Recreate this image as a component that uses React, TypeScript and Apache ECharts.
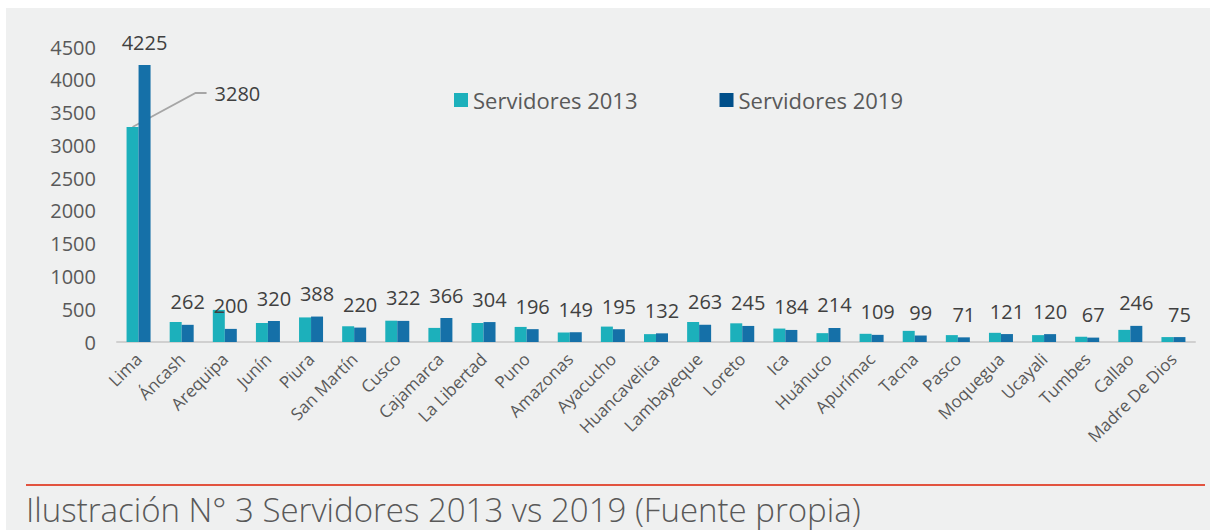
import React, { useEffect, useRef } from "react";
import * as echarts from "echarts";

const categories = [
  "Lima", "Áncash", "Arequipa", "Junín", "Piura", "San Martín", "Cusco", "Cajamarca",
  "La Libertad", "Puno", "Amazonas", "Ayacucho", "Huancavelica", "Lambayeque", "Loreto",
  "Ica", "Huánuco", "Apurímac", "Tacna", "Pasco", "Moquegua", "Ucayali", "Tumbes",
  "Callao", "Madre De Dios",
];
const servidores2013 = [
  3280, 305, 490, 290, 375, 240, 325, 215, 290, 230, 145, 235, 120, 305, 285, 205, 135,
  125, 170, 105, 140, 105, 80, 185, 75,
];
const servidores2019 = [
  4225, 262, 200, 320, 388, 220, 322, 366, 304, 196, 149, 195, 132, 263, 245, 184, 214,
  109, 99, 71, 121, 120, 67, 246, 75,
];
const yTicks = { min: 0, max: 4500, interval: 500 };
const seriesNames = ["Servidores 2013", "Servidores 2019"];
const caption = "Ilustración N° 3 Servidores 2013 vs 2019 (Fuente propia)";

const FONT = "'Open Sans', 'Noto Sans', sans-serif";
const C2013 = "#1cb0bb";
const C2019 = "#1570a8";
const C2019_LEGEND = "#004f8a";

export default function App() {
  const ref = useRef<HTMLDivElement>(null);
  useEffect(() => {
    if (!ref.current) return;
    const chart = echarts.init(ref.current, undefined, { renderer: "svg" });
    const W = 1204;
    chart.setOption({
      animation: false,
      backgroundColor: "#eff0f0",
      textStyle: { fontFamily: FONT },
      grid: { left: 111, right: 15, top: 39, bottom: 188, containLabel: false },
      legend: {
        left: 443,
        top: 76,
        itemWidth: 14,
        itemHeight: 14,
        itemGap: 82,
        icon: "rect",
        textStyle: { fontSize: 22, color: "#595959", fontFamily: FONT },
        data: [
          { name: seriesNames[0], itemStyle: { color: C2013 } },
          { name: seriesNames[1], itemStyle: { color: C2019_LEGEND } },
        ],
      },
      xAxis: {
        type: "category",
        data: categories,
        axisLine: { show: true, lineStyle: { color: "#d0d0d0", width: 2 } },
        axisTick: { show: false },
        axisLabel: {
          rotate: 45,
          interval: 0,
          margin: 14,
          fontSize: 17,
          color: "#595959",
          fontFamily: FONT,
        },
      },
      yAxis: {
        type: "value",
        min: yTicks.min,
        max: yTicks.max,
        interval: yTicks.interval,
        axisLine: { show: false },
        axisTick: { show: false },
        splitLine: { show: false },
        axisLabel: {
          fontSize: 20,
          color: "#595959",
          margin: 21,
          fontFamily: FONT,
          formatter: (v: number) => String(v),
        },
      },
      series: [
        {
          name: seriesNames[0],
          type: "bar",
          data: servidores2013,
          barWidth: 12,
          barGap: "0%",
          itemStyle: { color: C2013 },
        },
        {
          name: seriesNames[1],
          type: "bar",
          data: servidores2019,
          barWidth: 12,
          barGap: "0%",
          itemStyle: { color: C2019 },
          label: {
            show: true,
            position: "top",
            distance: 13,
            fontSize: 20,
            color: "#404040",
            fontFamily: FONT,
          },
        },
      ],
    });

    const p = chart.convertToPixel({ seriesIndex: 0 }, [0, servidores2013[0]]) as number[];
    const bx = p[0] - 6;
    const by = p[1];
    chart.setOption({
      graphic: [
        {
          type: "polyline",
          shape: { points: [[bx, by], [bx + 63, by - 34], [bx + 74, by - 34]] },
          style: { stroke: "#a6a6a6", lineWidth: 1.8, fill: "none" },
          silent: true,
        },
        {
          type: "text",
          x: bx + 82,
          y: by - 33,
          style: {
            text: String(servidores2013[0]),
            fontSize: 20,
            fill: "#404040",
            fontFamily: FONT,
            verticalAlign: "middle",
            align: "left",
          },
        },
        {
          type: "line",
          shape: { x1: 20, y1: 477, x2: W - 5, y2: 477 },
          style: { stroke: "#e2533f", lineWidth: 2 },
        },
        {
          type: "text",
          x: 20,
          y: 501,
          style: {
            text: caption,
            fontSize: 33,
            fontWeight: 300,
            fill: "#595959",
            fontFamily: FONT,
            verticalAlign: "middle",
            align: "left",
          },
        },
      ],
    });
    return () => chart.dispose();
  }, []);
  return (
    <div
      ref={ref}
      style={{ position: "absolute", left: 6, top: 8, width: 1204, height: 522 }}
    />
  );
}
